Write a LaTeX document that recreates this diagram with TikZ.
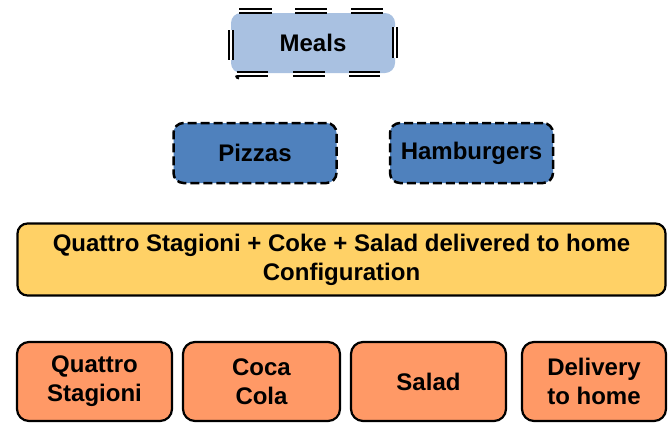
\documentclass[tikz,border=0pt]{standalone}
\usepackage{fontspec}
\setmainfont{Liberation Sans}
\definecolor{mealsfill}{HTML}{A9C1E1}
\definecolor{catfill}{HTML}{4F81BD}
\definecolor{conffill}{HTML}{FFD166}
\definecolor{itemfill}{HTML}{FF9966}
\begin{document}
\begin{tikzpicture}[x=1pt,y=-1pt,
  lbl/.style={font=\fontsize{24}{29}\selectfont\bfseries, align=center, inner sep=0pt, text=black},
  mealsbox/.style={lbl, fill=mealsfill, rounded corners=10pt, minimum width=164pt, minimum height=60pt},
  catbox/.style={lbl, fill=catfill, draw=black, line width=2.5pt, dash pattern=on 9pt off 4pt, rounded corners=10pt, minimum width=163pt, minimum height=60pt},
  confbox/.style={lbl, fill=conffill, draw=black, line width=2.2pt, rounded corners=10pt, minimum width=648pt, minimum height=72pt},
  itembox/.style={lbl, fill=itemfill, draw=black, line width=2.2pt, rounded corners=12pt, minimum height=79pt},
  dbl/.style={draw=black, line width=2pt, double=white, double distance=2pt}
]
\useasboundingbox (0,0) rectangle (668,426);
\fill[white] (0,0) rectangle (668,426);

% Meals with double dashed border
\node[mealsbox] (meals) at (313,43) {Meals};
\draw[dbl] (239,10.5) -- (272,10.5) (295,10.5) -- (327,10.5) (351,10.5) -- (383,10.5);
\draw[dbl] (237,73.5) -- (268,73.5) (293,73.5) -- (325,73.5) (349,73.5) -- (380,73.5);
\draw[dbl] (230.5,30) -- (230.5,60);
\draw[dbl] (395,27) -- (395,58);
\draw[black, line width=2pt] (236,75.5) arc[start angle=180, end angle=270, radius=3pt];

\node[catbox] (pizzas) at (255,153) {Pizzas};
\node[catbox] (hamburgers) at (471.5,153) {Hamburgers};

\node[confbox] (config) at (341.5,259.5) {Quattro Stagioni + Coke + Salad delivered to home\\Configuration};

\node[itembox, minimum width=155pt] (quattro) at (94.5,381.5) {Quattro\\Stagioni};
\node[itembox, minimum width=157pt] (coca) at (261.5,381.5) {Coca\\Cola};
\node[itembox, minimum width=155pt] (salad) at (428.5,381.5) {Salad};
\node[itembox, minimum width=144pt] (delivery) at (594,381.5) {Delivery\\to home};
\end{tikzpicture}
\end{document}
